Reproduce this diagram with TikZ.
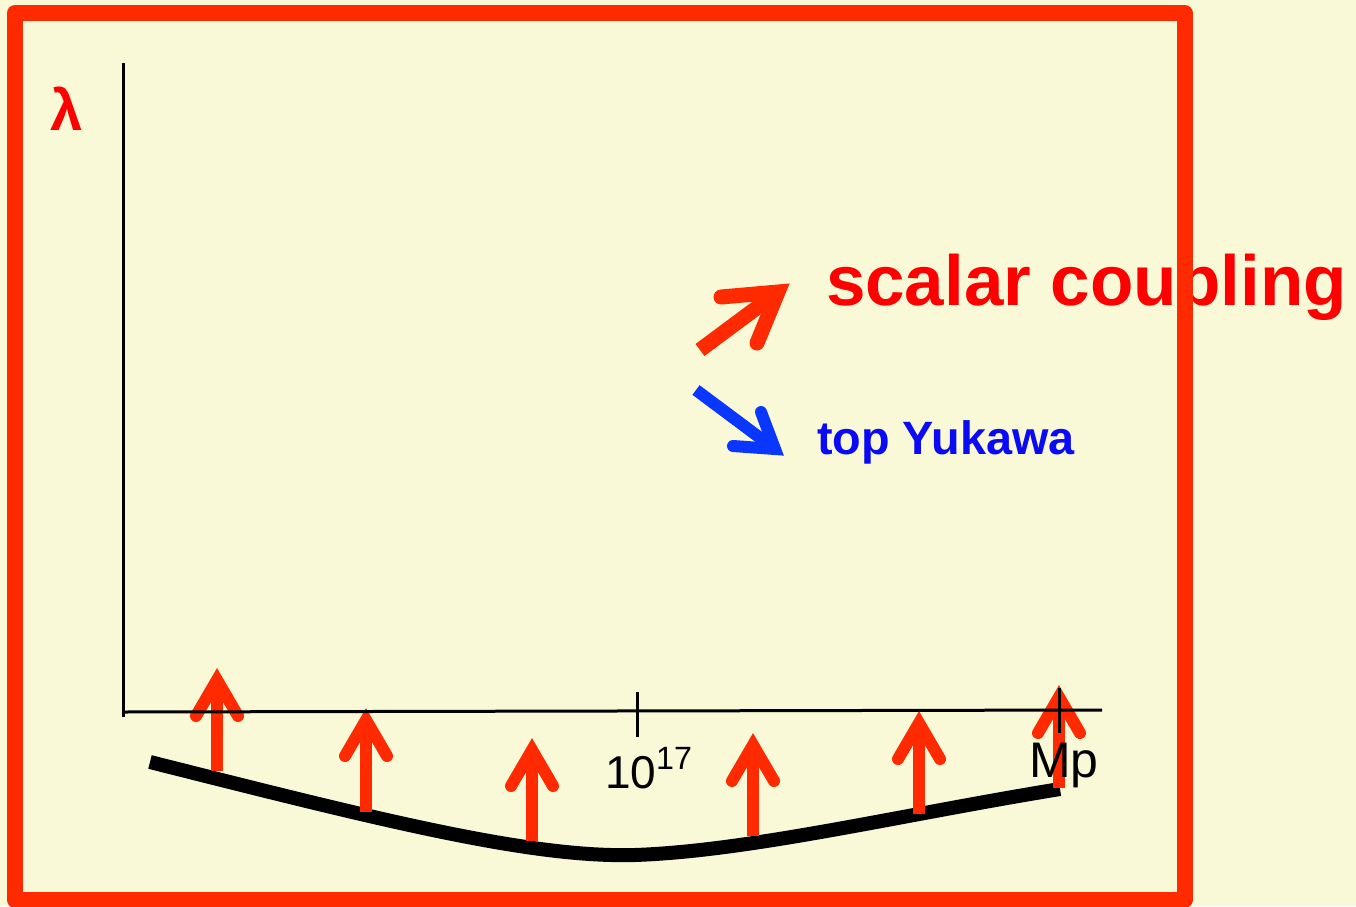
\documentclass[tikz,border=0pt]{standalone}
\usepackage{fontspec}
\setmainfont{Liberation Sans}

\definecolor{bgyellow}{HTML}{F9F9D8}
\definecolor{framered}{HTML}{FF2A00}
\definecolor{textred}{HTML}{FF0000}
\definecolor{arrowblue}{HTML}{0A37FF}
\definecolor{textblue}{HTML}{0A0AF5}

\begin{document}
\begin{tikzpicture}[x=0.5pt, y=-0.5pt,
    frame/.style={draw=framered, line width=8pt, line join=round},
    axis/.style={draw=black, line width=1.5pt},
    lift/.style={draw=framered, line width=6pt},
    barb/.style={lift, line cap=round, line join=miter},
    flow/.style={draw=black, line width=7pt},
    lbl/.style={inner sep=0pt, outer sep=0pt}]
    \useasboundingbox (0,0) rectangle (1356,906);
    \fill[bgyellow] (0,0) rectangle (1356,906);

    % Running of the coupling
    \draw[flow] (150,762) .. controls (380,820) and (530,858) .. (635,855)
        .. controls (750,851) and (900,815) .. (1060,789);

    % Arrows pushing the curve up
    \draw[lift] (217,771) -- (217,680);
    \draw[barb] (196,716) -- (217,680) -- (238,716);
    \draw[lift] (366,812) -- (366,720);
    \draw[barb] (345,756) -- (366,720) -- (387,756);
    \draw[lift] (532,841) -- (532,750);
    \draw[barb] (511,786) -- (532,750) -- (553,786);
    \draw[lift] (753,836) -- (753,745);
    \draw[barb] (732,781) -- (753,745) -- (774,781);
    \draw[lift] (919,814) -- (919,723);
    \draw[barb] (898,759) -- (919,723) -- (940,759);
    \draw[lift] (1059,788) -- (1059,697);
    \draw[barb] (1038,733) -- (1059,697) -- (1080,733);

    % Axes
    \coordinate (ytop) at (123,63);
    \coordinate (orig) at (123,712);
    \coordinate (xend) at (1102,710);
    \draw[axis] (ytop) -- (123,717);
    \draw[axis] (orig) -- (xend);
    \draw[axis] (637,692) -- (637,737);
    \draw[axis] (1059,688) -- (1059,733);

    % Labels
    \node[lbl, anchor=base, textred, font=\bfseries\fontsize{29}{32}\selectfont] (lam) at (67,130) {λ};
    \node[lbl, anchor=base west, font=\fontsize{23}{27}\selectfont] (tenseventeen) at (605,788) {10\textsuperscript{17}};
    \node[lbl, anchor=base west, font=\fontsize{25}{29}\selectfont] (planck) at (1029,777) {Mp};

    % Scalar coupling goes up
    \draw[draw=framered, line width=7.5pt] (700,350) -- (778,292);
    \draw[draw=framered, line width=7.5pt, line cap=round, line join=miter] (721,297) -- (778,292) -- (757,343);
    \node[lbl, anchor=base west, textred, font=\bfseries\fontsize{35.5}{40}\selectfont] (scalar) at (826,305) {scalar coupling};

    % Top Yukawa goes down
    \draw[draw=arrowblue, line width=6pt] (696,390) -- (775,449);
    \draw[draw=arrowblue, line width=6pt, line cap=round, line join=miter] (761,412) -- (775,449) -- (733,446);
    \node[lbl, anchor=base west, textblue, font=\bfseries\fontsize{23.4}{27}\selectfont] (yukawa) at (817,454) {top Yukawa};

    % Frame
    \draw[frame] (15,13) rectangle (1184.5,900);
\end{tikzpicture}
\end{document}
